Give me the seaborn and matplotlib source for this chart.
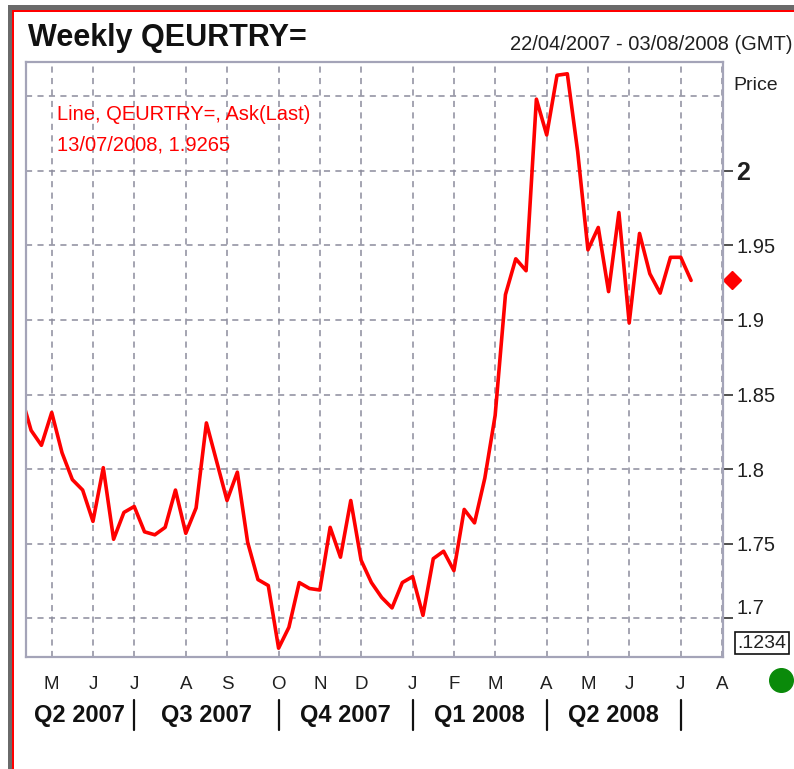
import seaborn as sns
import pandas as pd
import matplotlib.pyplot as plt
from matplotlib.patches import Rectangle

# weekly ask prices, Sundays from 15/04/2007 to 13/07/2008
start_date = '2007-04-15'
prices = [1.850, 1.826, 1.816, 1.838, 1.811, 1.793, 1.786, 1.765, 1.801, 1.753,
          1.771, 1.775, 1.758, 1.756, 1.761, 1.786, 1.757, 1.774, 1.831, 1.805,
          1.779, 1.798, 1.751, 1.726, 1.722, 1.680, 1.694, 1.724, 1.720, 1.719,
          1.761, 1.741, 1.779, 1.739, 1.724, 1.714, 1.707, 1.724, 1.728, 1.702,
          1.740, 1.745, 1.732, 1.773, 1.764, 1.794, 1.836, 1.917, 1.941, 1.933,
          2.048, 2.024, 2.064, 2.065, 2.013, 1.947, 1.962, 1.919, 1.972, 1.898,
          1.958, 1.931, 1.918, 1.942, 1.942, 1.9265]

month_ticks = ['2007-05-06', '2007-06-03', '2007-07-01', '2007-08-05', '2007-09-02',
               '2007-10-07', '2007-11-04', '2007-12-02', '2008-01-06', '2008-02-03',
               '2008-03-02', '2008-04-06', '2008-05-04', '2008-06-01', '2008-07-06',
               '2008-08-03']
month_labels = ['M', 'J', 'J', 'A', 'S', 'O', 'N', 'D', 'J', 'F', 'M', 'A', 'M', 'J', 'J', 'A']

quarter_bounds = ['2007-04-18', '2007-07-01', '2007-10-07', '2008-01-06', '2008-04-06', '2008-07-06']
quarter_labels = ['Q2 2007', 'Q3 2007', 'Q4 2007', 'Q1 2008', 'Q2 2008']

price_ticks = [1.7, 1.75, 1.8, 1.85, 1.9, 1.95, 2.0]
price_labels = ['1.7', '1.75', '1.8', '1.85', '1.9', '1.95', '2']

df = pd.DataFrame({'date': pd.date_range(start_date, periods=len(prices), freq='7D'),
                   'price': prices})

sns.set_style('white')
plt.rcParams['font.family'] = ['Liberation Sans', 'DejaVu Sans']

W, H = 794, 769
fig = plt.figure(figsize=(W / 100, H / 100), dpi=100)
ax = fig.add_axes([26 / W, 1 - 657 / H, 696.5 / W, 595 / H])

sns.lineplot(data=df, x='date', y='price', color='#ff0000', linewidth=2.6, ax=ax)

ax.set_xlim(pd.Timestamp('2007-04-18 13:00'), pd.Timestamp('2008-08-03 08:00'))
ax.set_ylim(1.6741, 2.0729)
ax.set_xlabel('')
ax.set_ylabel('')

grid_kw = dict(color='#8c8c9c', linestyle=(0, (4, 3.5)), linewidth=1.1, zorder=0)
ax.set_xticks(pd.to_datetime(month_ticks))
ax.set_xticklabels(month_labels)
ax.set_yticks(price_ticks)
ax.set_yticklabels(price_labels)
ax.grid(True, **grid_kw)
ax.axhline(2.05, **grid_kw)
ax.set_axisbelow(True)

ax.yaxis.tick_right()
ax.tick_params(axis='y', length=7, width=1.2, color='#303030', pad=3,
               labelsize=14.5, labelcolor='#202020')
ax.tick_params(axis='x', length=5, width=1.2, color='#303030', pad=9,
               labelsize=13.5, labelcolor='#202020')
ylabs = ax.get_yticklabels()
ylabs[-1].set_fontweight('bold')
ylabs[-1].set_fontsize(18)
ylabs[0].set_verticalalignment('bottom')

for s in ax.spines.values():
    s.set_color('#a4a4b8')
    s.set_linewidth(1.6)

# quarter labels and separators under the month letters
xt = ax.get_xaxis_transform()
qb = pd.to_datetime(quarter_bounds)
for i, lab in enumerate(quarter_labels):
    mid = qb[i] + (qb[i + 1] - qb[i]) / 2
    ax.text(mid, -0.099, lab, transform=xt, ha='center', va='center',
            fontsize=17, fontweight='bold', color='#111111')
for d in qb[1:]:
    ax.plot([d, d], [-0.072, -0.123], transform=xt, color='#111111',
            linewidth=1.6, clip_on=False)

# last value marker on the price axis
ax.plot([pd.Timestamp('2008-08-10')], [prices[-1]], marker='D', color='#ff0000',
        markersize=9, clip_on=False, linestyle='none')

# titles and annotation
fig.text(28 / W, 1 - 38 / H, 'Weekly QEURTRY=', fontsize=22, fontweight='bold',
         ha='left', va='center', color='#111111')
fig.text(793 / W, 1 - 44 / H, '22/04/2007 - 03/08/2008 (GMT)', fontsize=14.5,
         ha='right', va='center', color='#202020')
fig.text(57 / W, 1 - 115 / H, 'Line, QEURTRY=, Ask(Last)', fontsize=14.5,
         ha='left', va='center', color='#ff0000')
fig.text(57 / W, 1 - 145 / H, '13/07/2008, 1.9265', fontsize=14.5,
         ha='left', va='center', color='#ff0000')
fig.text(733 / W, 1 - 85 / H, 'Price', fontsize=14, ha='left', va='center', color='#202020')
fig.text(762 / W, 1 - 643 / H, '.1234', fontsize=14, ha='center', va='center', color='#202020',
         bbox=dict(boxstyle='square,pad=0.15', facecolor='white', edgecolor='#111111', linewidth=1.2))
ax.plot([781 / W], [1 - 680 / H], marker='o', color='#0a8a0a', markersize=17,
        transform=fig.transFigure, clip_on=False, linestyle='none')

# window frame
fig.add_artist(Rectangle((8 / W, 1 - 10 / H), 1, 5 / H, transform=fig.transFigure,
                         facecolor='#6a6a6a', edgecolor='none'))
fig.add_artist(Rectangle((8 / W, 0), 3.5 / W, 1 - 5 / H, transform=fig.transFigure,
                         facecolor='#6a6a6a', edgecolor='none'))
fig.add_artist(Rectangle((11.5 / W, 1 - 12 / H), 1, 2 / H, transform=fig.transFigure,
                         facecolor='#ff0000', edgecolor='none'))
fig.add_artist(Rectangle((11.5 / W, 0), 2 / W, 1 - 10 / H, transform=fig.transFigure,
                         facecolor='#ff0000', edgecolor='none'))

fig.savefig('out.png', dpi=100)
